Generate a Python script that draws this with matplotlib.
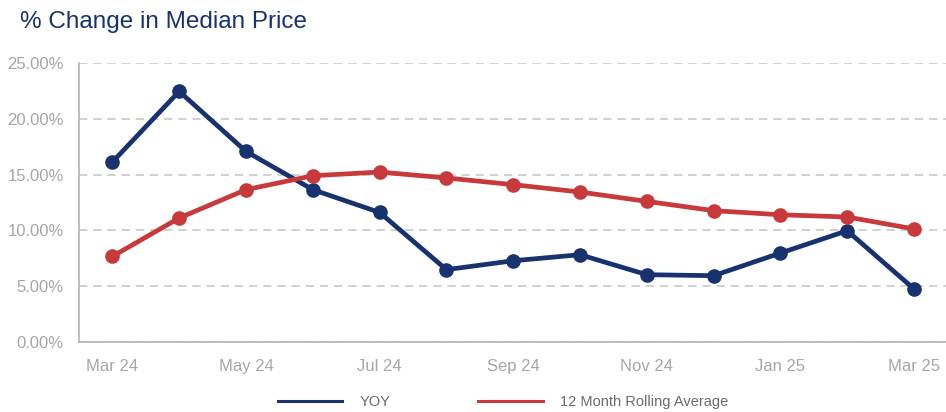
import matplotlib
matplotlib.use("Agg")
import matplotlib.pyplot as plt
from matplotlib.lines import Line2D
from matplotlib.ticker import PercentFormatter

plt.rcParams["font.family"] = ["Liberation Sans", "DejaVu Sans"]

months = ["Mar 24", "Apr 24", "May 24", "Jun 24", "Jul 24", "Aug 24", "Sep 24",
          "Oct 24", "Nov 24", "Dec 24", "Jan 25", "Feb 25", "Mar 25"]
yoy = [16.13, 22.46, 17.08, 13.65, 11.61, 6.48, 7.28, 7.82, 6.03, 5.94, 7.97, 9.97, 4.75]
rolling = [7.67, 11.11, 13.65, 14.90, 15.23, 14.70, 14.10, 13.44, 12.60, 11.77, 11.40, 11.20, 10.13]
yticks = [0, 5, 10, 15, 20, 25]

NAVY, RED, GRID, TICK = "#17326f", "#c8393b", "#c8c8c8", "#a6a6a6"

fig = plt.figure(figsize=(9.46, 4.12), dpi=100)
ax = fig.add_axes([0.0835, 0.170, 0.918, 0.677])
x = list(range(len(months)))
ax.plot(x, yoy, color=NAVY, lw=3.4, marker="o", ms=9.5, zorder=3, solid_joinstyle="round")
ax.plot(x, rolling, color=RED, lw=3.4, marker="o", ms=9.5, zorder=3, solid_joinstyle="round")

ax.set_xlim(-0.5, 12.5)
ax.set_ylim(0, 25)
ax.set_yticks(yticks)
ax.yaxis.set_major_formatter(PercentFormatter(decimals=2))
ax.set_xticks(x[::2])
ax.set_xticklabels(months[::2])
ax.tick_params(length=0, labelsize=12, labelcolor=TICK)
ax.tick_params(axis="y", pad=11)
ax.tick_params(axis="x", pad=12)
ax.yaxis.grid(True, color=GRID, ls=(0, (5, 3.5)), lw=1.2)
ax.set_axisbelow(True)
for s in ["top", "right"]:
    ax.spines[s].set_visible(False)
for s in ["left", "bottom"]:
    ax.spines[s].set_color("#b4b4b4")
    ax.spines[s].set_linewidth(1.2)

fig.text(0.021, 0.947, "% Change in Median Price", fontsize=17.5, color="#17326f",
         ha="left", va="center")

handles = [Line2D([], [], color=NAVY, lw=2.2), Line2D([], [], color=RED, lw=2.2)]
fig.legend(handles, ["YOY", "12 Month Rolling Average"], loc="center",
           bbox_to_anchor=(0.532, 0.025), ncol=2, frameon=False, fontsize=10.5,
           handlelength=4.4, handletextpad=1.2, columnspacing=6.0, labelcolor="#6b6b6b")

fig.savefig("out.png", dpi=100)
